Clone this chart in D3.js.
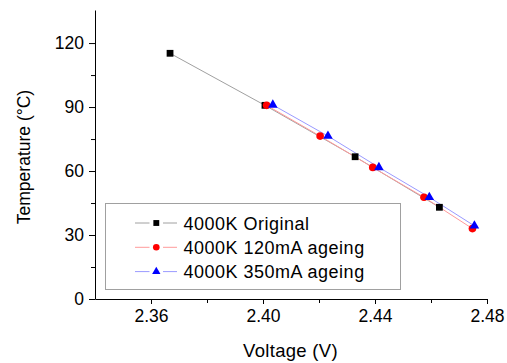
<!DOCTYPE html>
<html>
<head>
<meta charset="utf-8">
<script src="https://cdn.jsdelivr.net/npm/d3@7"></script>
<style>
  body { margin: 0; background: #fff; }
  svg { font-family: Arial, "Liberation Sans", sans-serif; }
</style>
</head>
<body>
<svg width="507" height="363"></svg>
<script>
// voltage (V) / temperature (°C)
const origV = [2.3668, 2.4007, 2.4329, 2.4630];
const origT = [115.2, 90.8, 66.7, 43.0];
const age120V = [2.4013, 2.4204, 2.4392, 2.4575, 2.4748];
const age120T = [90.8, 76.4, 61.7, 47.7, 33.0];
const age350V = [2.4035, 2.4232, 2.4414, 2.4594, 2.4755];
const age350T = [91.0, 76.4, 61.7, 47.7, 34.3];

const xTicks = [2.36, 2.40, 2.44, 2.48];
const yTicks = [0, 30, 60, 90, 120];

const series = [
    {name: '4000K Original', v: origV, t: origT, line: '#a0a0a0', fill: '#000', shape: d3.symbolSquare, size: 46},
    {name: '4000K 120mA ageing', v: age120V, t: age120T, line: '#ff9a9a', fill: '#ff0000', shape: d3.symbolCircle, size: 46},
    {name: '4000K 350mA ageing', v: age350V, t: age350T, line: '#9a9aff', fill: '#0000ff', shape: d3.symbolTriangle, size: 40},
];

const svg = d3.select('svg');

const x = d3.scaleLinear().domain([2.34, 2.48]).range([95, 487]);
const y = d3.scaleLinear().domain([0, 135.5]).range([299, 10]);

// minor ticks (no labels)
svg.append('g')
    .attr('transform', 'translate(0,299)')
    .call(d3.axisBottom(x).tickValues([2.38, 2.42, 2.46]).tickSize(4).tickFormat(''))
    .call(g => g.select('.domain').remove());
svg.append('g')
    .attr('transform', 'translate(95,0)')
    .call(d3.axisLeft(y).tickValues([15, 45, 75, 105]).tickSize(4).tickFormat(''))
    .call(g => g.select('.domain').remove());

svg.append('g')
    .attr('transform', 'translate(0,299)')
    .call(d3.axisBottom(x).tickValues(xTicks).tickSize(5).tickSizeOuter(0).tickPadding(6).tickFormat(d3.format('.2f')));
svg.append('g')
    .attr('transform', 'translate(95,0)')
    .call(d3.axisLeft(y).tickValues(yTicks).tickSize(6).tickSizeOuter(0).tickPadding(5));

svg.selectAll('.tick text').attr('font-size', 17.5).attr('fill', '#000').attr('font-family', 'Arial, "Liberation Sans", sans-serif');
svg.selectAll('.domain, .tick line').attr('stroke', '#000');

svg.append('text')
    .attr('x', 290.5).attr('y', 356.5)
    .attr('text-anchor', 'middle')
    .attr('font-size', 18.5)
    .attr('letter-spacing', 0.3)
    .text('Voltage (V)');

svg.append('text')
    .attr('transform', 'translate(30,157) rotate(-90)')
    .attr('text-anchor', 'middle')
    .attr('font-size', 17.5)
    .text('Temperature (°C)');

const line = d3.line()
    .x(d => x(d[0]))
    .y(d => y(d[1]));

series.forEach(s => {
    const pts = s.v.map((v, i) => [v, s.t[i]]);
    svg.append('path')
        .attr('d', line(pts))
        .attr('fill', 'none')
        .attr('stroke', s.line)
        .attr('stroke-width', 1);
});

series.forEach(s => {
    const pts = s.v.map((v, i) => [v, s.t[i]]);
    svg.append('g').selectAll('path')
        .data(pts)
        .join('path')
        .attr('transform', d => `translate(${x(d[0])},${y(d[1])})`)
        .attr('d', d3.symbol(s.shape, s.size))
        .attr('fill', s.fill);
});

// legend
const legend = svg.append('g');
legend.append('rect')
    .attr('x', 105.5).attr('y', 203.5)
    .attr('width', 295).attr('height', 86)
    .attr('fill', '#fff')
    .attr('stroke', '#a0a0a0');

series.forEach((s, i) => {
    const ly = 223 + i * 24.3;
    legend.append('line')
        .attr('x1', 135).attr('x2', 149.5)
        .attr('y1', ly).attr('y2', ly)
        .attr('stroke', s.line);
    legend.append('line')
        .attr('x1', 163).attr('x2', 177)
        .attr('y1', ly).attr('y2', ly)
        .attr('stroke', s.line);
    legend.append('path')
        .attr('transform', `translate(156.3,${ly})`)
        .attr('d', d3.symbol(s.shape, s.size * 0.75))
        .attr('fill', s.fill);
    legend.append('text')
        .attr('x', 183.5).attr('y', ly + 6.5)
        .attr('font-size', 18)
        .attr('letter-spacing', 0.5)
        .text(s.name);
});
</script>
</body>
</html>
